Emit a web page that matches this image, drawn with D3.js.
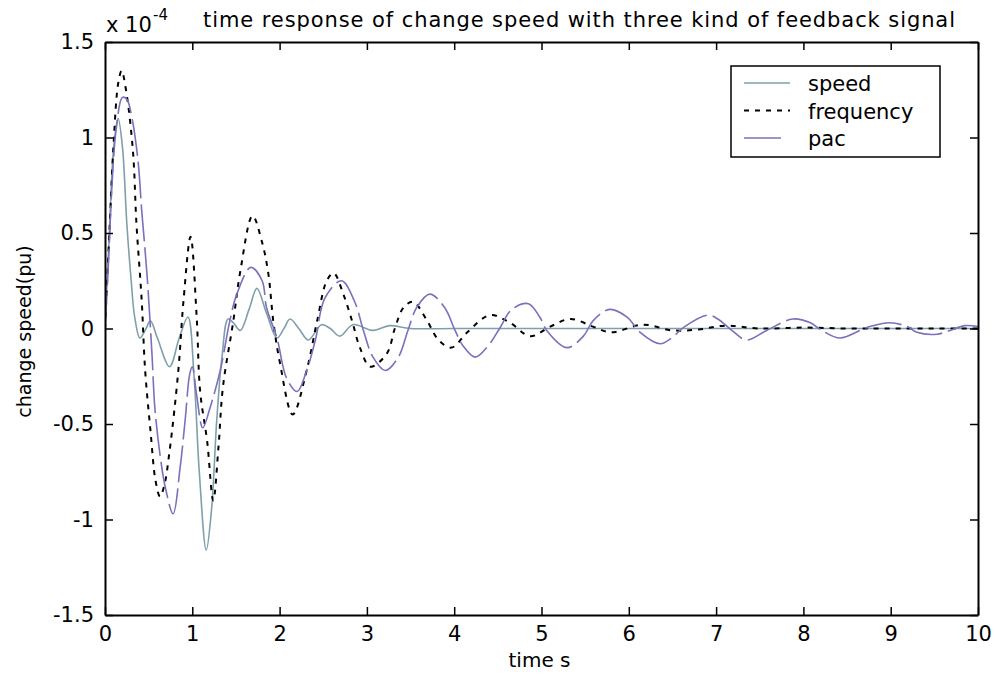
<!DOCTYPE html>
<html>
<head>
<meta charset="utf-8">
<script src="https://cdn.jsdelivr.net/npm/d3@7"></script>
<style>
  body { margin: 0; background: #fff; }
  text { font-family: "DejaVu Sans", "Liberation Sans", sans-serif; fill: #000; }
</style>
</head>
<body>
<div id="chart"></div>
<script>
// values, in units of 1e-4 pu
const speedT = [0, 0.05, 0.1, 0.15, 0.2, 0.25, 0.3, 0.34, 0.4, 0.46, 0.52, 0.6, 0.74, 0.85, 0.95, 1.02, 1.08, 1.16, 1.22, 1.28, 1.34, 1.41, 1.47, 1.55, 1.65, 1.74, 1.85, 1.97, 2.05, 2.12, 2.22, 2.33, 2.48, 2.58, 2.69, 2.84, 3.07, 3.26, 3.5, 4, 5, 6, 7, 8, 9, 10];
const speedV = [0, 0.5, 0.95, 1.1, 0.95, 0.55, 0.25, 0.06, -0.05, -0.01, 0.04, -0.05, -0.2, -0.05, 0.06, -0.25, -0.75, -1.16, -0.95, -0.48, -0.15, 0.05, 0.03, -0.01, 0.1, 0.21, 0.08, -0.05, 0.0, 0.05, 0.0, -0.06, 0.02, 0.0, -0.04, 0.02, -0.01, 0.015, 0, 0, 0, 0, 0, 0, 0, 0];

const freqT = [0, 0.05, 0.1, 0.15, 0.19, 0.24, 0.32, 0.36, 0.42, 0.46, 0.52, 0.58, 0.63, 0.68, 0.74, 0.84, 0.9, 0.98, 1.05, 1.09, 1.17, 1.24, 1.3, 1.35, 1.47, 1.55, 1.69, 1.8, 1.87, 1.93, 2.0, 2.15, 2.31, 2.43, 2.54, 2.62, 2.73, 2.83, 2.92, 3.04, 3.23, 3.32, 3.42, 3.53, 3.69, 3.82, 3.97, 4.15, 4.41, 4.64, 4.87, 5.1, 5.33, 5.59, 5.8, 6.16, 6.5, 6.8, 7.1, 7.5, 8.0, 8.5, 9.0, 9.5, 10];
const freqV = [0, 0.5, 0.98, 1.28, 1.35, 1.25, 0.93, 0.55, 0.15, -0.22, -0.53, -0.8, -0.88, -0.82, -0.64, -0.22, 0.15, 0.48, 0.06, -0.33, -0.59, -0.9, -0.62, -0.31, 0.04, 0.3, 0.59, 0.45, 0.29, 0.03, -0.17, -0.45, -0.22, 0.04, 0.25, 0.29, 0.18, 0.04, -0.1, -0.2, -0.13, 0.0, 0.11, 0.14, 0.04, -0.06, -0.1, -0.02, 0.07, 0.03, -0.04, 0.01, 0.05, 0.01, -0.02, 0.02, -0.01, -0.005, 0.015, 0.0, 0.005, 0, 0, 0, 0];

const pacT = [0, 0.04, 0.08, 0.13, 0.2, 0.25, 0.31, 0.38, 0.42, 0.48, 0.54, 0.57, 0.63, 0.69, 0.78, 0.86, 0.92, 0.97, 1.0, 1.05, 1.12, 1.2, 1.32, 1.43, 1.51, 1.67, 1.8, 1.85, 1.97, 2.08, 2.2, 2.31, 2.41, 2.52, 2.71, 2.86, 2.96, 3.07, 3.21, 3.36, 3.47, 3.57, 3.72, 3.89, 4.01, 4.1, 4.24, 4.39, 4.52, 4.66, 4.85, 4.98, 5.06, 5.29, 5.48, 5.59, 5.78, 5.98, 6.13, 6.36, 6.49, 6.64, 6.9, 7.02, 7.18, 7.35, 7.58, 7.88, 8.08, 8.21, 8.42, 8.65, 8.76, 8.99, 9.19, 9.3, 9.53, 9.68, 9.85, 10];
const pacV = [0, 0.35, 0.75, 1.05, 1.21, 1.2, 1.1, 0.87, 0.62, 0.29, -0.15, -0.41, -0.66, -0.83, -0.97, -0.73, -0.47, -0.24, -0.2, -0.35, -0.52, -0.42, -0.22, 0.04, 0.18, 0.32, 0.25, 0.11, -0.05, -0.26, -0.33, -0.22, -0.06, 0.16, 0.25, 0.14, -0.01, -0.15, -0.22, -0.15, -0.01, 0.11, 0.18, 0.11, -0.01, -0.09, -0.15, -0.09, 0.0, 0.1, 0.13, 0.06, -0.01, -0.1, -0.04, 0.04, 0.1, 0.06, -0.02, -0.08, -0.05, 0.01, 0.07, 0.05, -0.01, -0.06, -0.01, 0.05, 0.03, -0.01, -0.05, -0.01, 0.01, 0.03, 0.01, -0.02, -0.03, -0.01, 0.015, 0.01];

const xTicks = [0, 1, 2, 3, 4, 5, 6, 7, 8, 9, 10];
const yTicks = [-1.5, -1, -0.5, 0, 0.5, 1, 1.5];
const seriesNames = ["speed", "frequency", "pac"];

const series = [
    { name: seriesNames[0], t: speedT, v: speedV, color: "#7fa0aa", dash: null, width: 1.6 },
    { name: seriesNames[1], t: freqT, v: freqV, color: "#000", dash: "5,6", width: 2 },
    { name: seriesNames[2], t: pacT, v: pacV, color: "#7a70bd", dash: "37,6", width: 1.6 }
];

const W = 995, H = 675;
const margin = { top: 42, right: 17, bottom: 60, left: 105 },
    width = W - margin.left - margin.right,
    height = H - margin.top - margin.bottom;

const svg = d3.select("#chart")
    .append("svg")
    .attr("width", W)
    .attr("height", H);

const g = svg.append("g")
    .attr("transform", "translate(" + margin.left + "," + margin.top + ")");

const x = d3.scaleLinear().domain([0, 10]).range([0, width]);
const y = d3.scaleLinear().domain([-1.5, 1.5]).range([height, 0]);

// lines
const line = d3.line()
    .x(d => x(d[0]))
    .y(d => y(d[1]))
    .curve(d3.curveCatmullRom.alpha(0.5));

g.append("defs").append("clipPath").attr("id", "clip")
    .append("rect").attr("width", width).attr("height", height);

series.forEach(s => {
    g.append("path")
        .datum(s.t.map((t, i) => [t, s.v[i]]))
        .attr("clip-path", "url(#clip)")
        .attr("fill", "none")
        .attr("stroke", s.color)
        .attr("stroke-width", s.width)
        .attr("stroke-dasharray", s.dash)
        .attr("d", line);
});

// axes (box with inward ticks, like matlab)
function styleAxis(sel) {
    sel.select(".domain").attr("stroke", "#000").attr("stroke-width", 2);
    sel.selectAll(".tick line").attr("stroke", "#000").attr("stroke-width", 1.5);
    sel.selectAll("text").style("font-size", "21px").attr("fill", "#000");
}

g.append("g")
    .attr("transform", "translate(0," + height + ")")
    .call(d3.axisBottom(x).tickValues(xTicks).tickSizeInner(-8).tickSizeOuter(0).tickPadding(11).tickFormat(d3.format("d")))
    .call(styleAxis)
    .call(a => a.selectAll("text").attr("font-family", null));

g.append("g")
    .call(d3.axisTop(x).tickValues(xTicks).tickSizeInner(-8).tickSizeOuter(0).tickFormat(""))
    .call(styleAxis);

g.append("g")
    .call(d3.axisLeft(y).tickValues(yTicks).tickSizeInner(-8).tickSizeOuter(0).tickPadding(11).tickFormat(d => d))
    .call(styleAxis);

g.append("g")
    .attr("transform", "translate(" + width + ",0)")
    .call(d3.axisRight(y).tickValues(yTicks).tickSizeInner(-8).tickSizeOuter(0).tickFormat(""))
    .call(styleAxis);

// exponent and title
svg.append("text")
    .attr("x", 106).attr("y", 32)
    .style("font-size", "21px")
    .text("x 10");
svg.append("text")
    .attr("x", 153).attr("y", 20)
    .style("font-size", "15px")
    .text("-4");

svg.append("text")
    .attr("x", 203).attr("y", 27)
    .attr("textLength", 752)
    .attr("lengthAdjust", "spacing")
    .style("font-size", "21px")
    .text("time response of change speed with three kind of feedback signal");

// axis labels
svg.append("text")
    .attr("x", margin.left + width / 2 - 2).attr("y", 667)
    .attr("text-anchor", "middle")
    .style("font-size", "20px")
    .text("time s");

svg.append("text")
    .attr("transform", "translate(31," + (margin.top + height / 2 + 3) + ") rotate(-90)")
    .attr("text-anchor", "middle")
    .style("font-size", "19px")
    .text("change speed(pu)");

// legend
const legend = svg.append("g").attr("transform", "translate(731,66)");
legend.append("rect")
    .attr("width", 209).attr("height", 91)
    .attr("fill", "#fff").attr("stroke", "#000").attr("stroke-width", 1.5);

const legendLen = [46, 46, 37];
series.forEach((s, i) => {
    const ly = 17 + i * 27.5;
    legend.append("line")
        .attr("x1", 13).attr("x2", 13 + legendLen[i])
        .attr("y1", ly).attr("y2", ly)
        .attr("stroke", s.color)
        .attr("stroke-width", s.width)
        .attr("stroke-dasharray", s.dash);
    legend.append("text")
        .attr("x", 77).attr("y", ly + 8)
        .style("font-size", "21px")
        .text(s.name);
});
</script>
</body>
</html>
